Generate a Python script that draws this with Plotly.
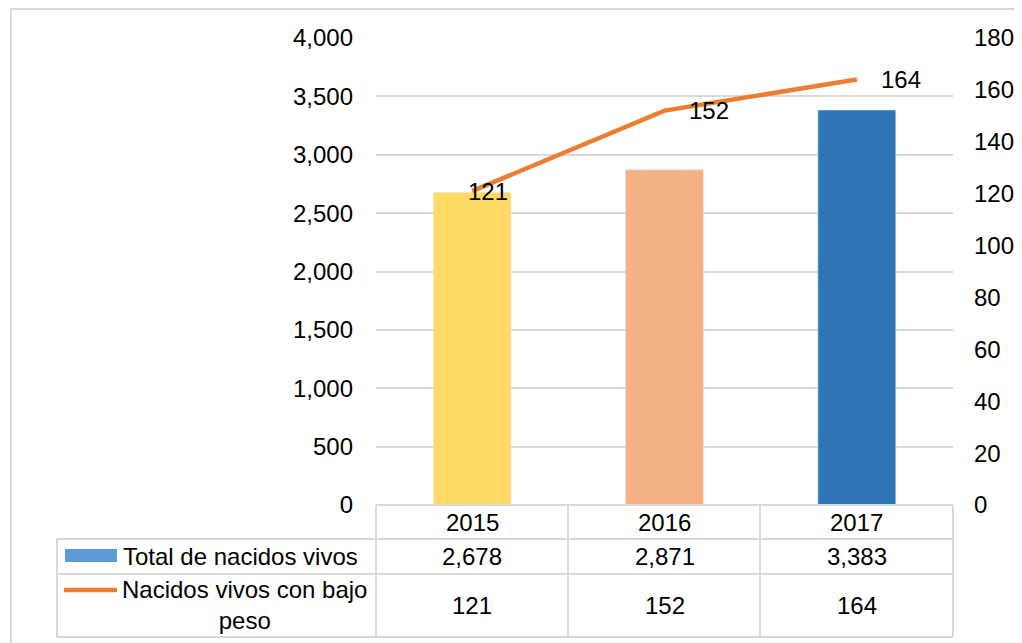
import plotly.graph_objects as go

# DATA
years = ["2015", "2016", "2017"]
total_nacidos = [2678, 2871, 3383]
bajo_peso = [121, 152, 164]
bar_colors = ["#FFD966", "#F4B183", "#2E75B6"]

row_labels = ["Total de nacidos vivos", "Nacidos vivos con bajo<br>peso"]

FONT = "Liberation Sans, Arial, sans-serif"
FS = 24
GRID = "#D9D9D9"

# page body has an 8px margin, so the figure is shifted by that much
OFF = 8
W, H = 1022 - OFF, 643 - OFF
# plot area in page pixels: x 376..953, y 38..505
L, R, T, B = 376, 953, 38, 505


def px_x(p):
    return (p - L) / (R - L)


def px_y(p):
    return (B - p) / (B - T)


fig = go.Figure()

fig.add_trace(go.Bar(
    x=years, y=total_nacidos, marker_color=bar_colors, width=0.405,
    name="Total de nacidos vivos", showlegend=False, hoverinfo="x+y",
))

fig.add_trace(go.Scatter(
    x=years, y=bajo_peso, yaxis="y2", mode="lines",
    line=dict(color="#ED7D31", width=4.5),
    name="Nacidos vivos con bajo peso", showlegend=False,
))

# data labels on line (category index positions)
label_shift = [-6, 22, 22]
for i, (v, sh) in enumerate(zip(bajo_peso, label_shift)):
    fig.add_annotation(x=i, y=v, yref="y2", text=str(v), showarrow=False,
                       xanchor="left", yanchor="middle", xshift=sh,
                       font=dict(size=FS, color="black", family=FONT))

# TABLE BELOW THE CHART
shapes = []
line_style = dict(color=GRID, width=2)
row_y = [505, 539, 574, 637]
# horizontal lines
shapes.append(dict(type="line", xref="paper", yref="paper",
                   x0=0, x1=1, y0=px_y(505), y1=px_y(505), line=line_style))
for yy in row_y[1:]:
    shapes.append(dict(type="line", xref="paper", yref="paper",
                       x0=px_x(57), x1=1, y0=px_y(yy), y1=px_y(yy), line=line_style))
# vertical lines
shapes.append(dict(type="line", xref="paper", yref="paper",
                   x0=px_x(57), x1=px_x(57), y0=px_y(539), y1=px_y(637), line=line_style))
for xx in [376, 568, 760, 953]:
    shapes.append(dict(type="line", xref="paper", yref="paper",
                       x0=px_x(xx), x1=px_x(xx), y0=px_y(505), y1=px_y(637), line=line_style))

# legend keys
shapes.append(dict(type="rect", xref="paper", yref="paper",
                   x0=px_x(65), x1=px_x(117), y0=px_y(549), y1=px_y(562),
                   fillcolor="#5B9BD5", line=dict(width=0)))
shapes.append(dict(type="line", xref="paper", yref="paper",
                   x0=px_x(64), x1=px_x(117), y0=px_y(590), y1=px_y(590),
                   line=dict(color="#ED7D31", width=4.5)))

# outer border
shapes.append(dict(type="rect", xref="paper", yref="paper", layer="below",
                   x0=px_x(11), x1=px_x(1040), y0=px_y(9), y1=px_y(680),
                   line=dict(color=GRID, width=2), fillcolor="rgba(0,0,0,0)"))

txt = dict(size=FS, color="black", family=FONT)
for i, yr in enumerate(years):
    fig.add_annotation(x=i, y=px_y(522), yref="paper", text=yr, showarrow=False,
                       xanchor="center", yanchor="middle", font=txt)
    fig.add_annotation(x=i, y=px_y(556), yref="paper", text=f"{total_nacidos[i]:,}",
                       showarrow=False, xanchor="center", yanchor="middle", font=txt)
    fig.add_annotation(x=i, y=px_y(605), yref="paper", text=str(bajo_peso[i]),
                       showarrow=False, xanchor="center", yanchor="middle", font=txt)

fig.add_annotation(x=px_x(121), y=px_y(556), xref="paper", yref="paper",
                   text=row_labels[0], showarrow=False, xanchor="left",
                   yanchor="middle", font=txt)
fig.add_annotation(x=px_x(244), y=px_y(605), xref="paper", yref="paper",
                   text=row_labels[1], showarrow=False, xanchor="center",
                   yanchor="middle", align="center", font=txt)

fig.update_layout(
    width=W, height=H,
    margin=dict(l=L - OFF, r=1022 - R, t=T - OFF, b=643 - B),
    paper_bgcolor="white", plot_bgcolor="white",
    font=dict(family=FONT, size=FS, color="black"),
    shapes=shapes,
    xaxis=dict(type="category", range=[-0.5, 2.5], showticklabels=False,
               showgrid=False, zeroline=False, showline=False, ticks="",
               fixedrange=True, automargin=False),
    yaxis=dict(range=[0, 4000], dtick=500, tickformat=",", showgrid=True,
               gridcolor=GRID, gridwidth=1.5, zeroline=False, showline=False,
               ticks="", ticklabelstandoff=22, automargin=False),
    yaxis2=dict(range=[0, 180], dtick=20, overlaying="y", side="right",
                showgrid=False, zeroline=False, showline=False, ticks="",
                ticklabelstandoff=20, automargin=False),
)

fig.write_html("out.html")
